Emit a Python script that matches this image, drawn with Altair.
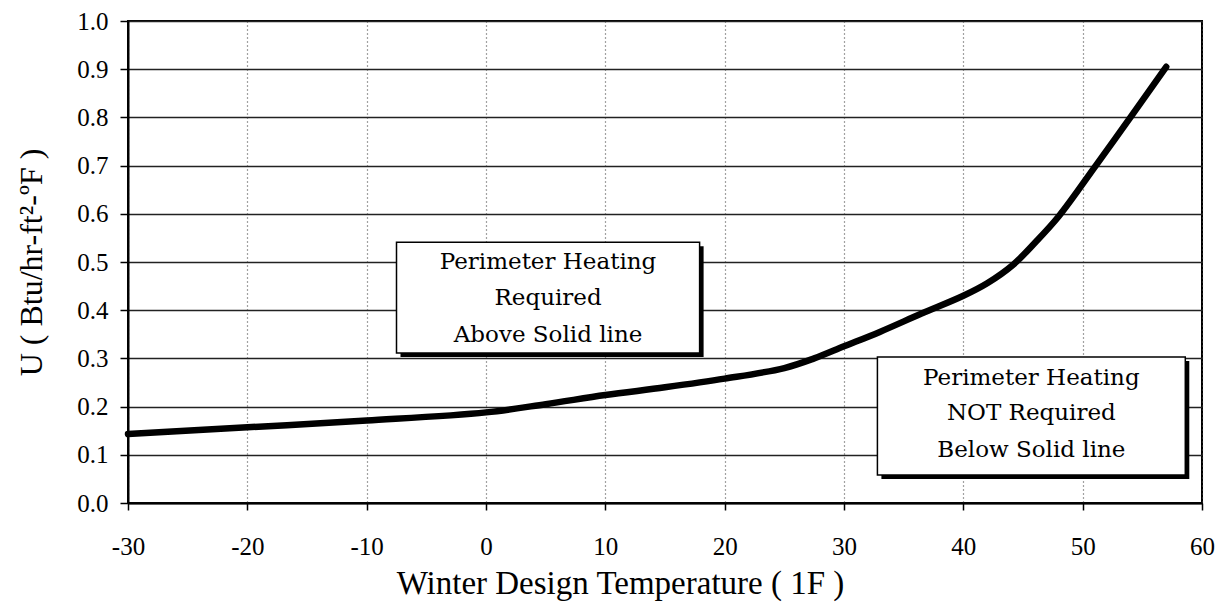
import altair as alt
import pandas as pd

# Curve: U-value threshold vs winter design temperature
temps = [-30, -20, -10, 0, 5, 10, 15, 20, 25, 27.5, 30, 33, 36.5, 40, 42, 44.2, 46, 48, 51.1, 54, 57]
u_vals = [0.143, 0.157, 0.171, 0.188, 0.205, 0.224, 0.24, 0.258, 0.28, 0.300, 0.325,
          0.355, 0.393, 0.430, 0.456, 0.495, 0.540, 0.595, 0.70, 0.80, 0.905]

x_ticks = [-30, -20, -10, 0, 10, 20, 30, 40, 50, 60]
y_ticks = [0.0, 0.1, 0.2, 0.3, 0.4, 0.5, 0.6, 0.7, 0.8, 0.9, 1.0]

# annotation boxes (data coordinates)
box_x1 = [-7.5, 32.8]
box_x2 = [17.9, 58.6]
box_y1 = [0.311, 0.058]
box_y2 = [0.541, 0.303]

label_text = ["Perimeter Heating", "Required", "Above Solid line",
              "Perimeter Heating", "NOT Required", "Below Solid line"]
label_x = [5.2, 5.2, 5.2, 45.7, 45.7, 45.7]
label_y = [0.500, 0.425, 0.349, 0.259, 0.187, 0.110]

curve_df = pd.DataFrame({"t": temps, "u": u_vals})
box_df = pd.DataFrame({"x1": box_x1, "x2": box_x2, "y1": box_y1, "y2": box_y2})
lab_df = pd.DataFrame({"x": label_x, "y": label_y, "text": label_text})

SERIF = "Liberation Serif"

xscale = alt.Scale(domain=[-30, 60], nice=False, zero=False)
yscale = alt.Scale(domain=[0, 1], nice=False)

xaxis = alt.Axis(
    values=x_ticks, labelExpr="'' + datum.value", title="Winter Design Temperature ( 1F )",
    labelFont=SERIF, labelFontSize=25, labelColor="black", labelPadding=24,
    labelFlush=False, labelOverlap=False,
    tickColor="black", tickSize=7, tickWidth=1.5,
    domainColor="black", domainWidth=2,
    grid=True, gridColor="#444444", gridDash=[1, 3], gridWidth=1.2,
    titleFont=SERIF, titleFontSize=33, titleFontWeight="normal", titleColor="black",
    titleX=492, titleY=80, titleAlign="center", titleBaseline="middle",
)
yaxis = alt.Axis(
    values=y_ticks, format=".1f", title="U ( Btu/hr-ft²-ºF )",
    labelFont=SERIF, labelFontSize=25, labelColor="black", labelPadding=12,
    labelFlush=False, labelOverlap=False,
    tickColor="black", tickSize=8, tickWidth=1.5,
    domainColor="black", domainWidth=2,
    grid=True, gridColor="#222222", gridWidth=1.4,
    titleFont=SERIF, titleFontSize=32, titleFontWeight="normal", titleColor="black",
    titleX=-97, titleY=241, titleAngle=-90, titleAlign="center", titleBaseline="middle",
)

line = alt.Chart(curve_df).mark_line(
    color="black", strokeWidth=6.5, interpolate="catmull-rom", strokeCap="round"
).encode(
    x=alt.X("t:Q", scale=xscale, axis=xaxis),
    y=alt.Y("u:Q", scale=yscale, axis=yaxis),
)

shadow = alt.Chart(box_df).mark_rect(
    color="black", xOffset=4, x2Offset=4, yOffset=4, y2Offset=4
).encode(
    x=alt.X("x1:Q", scale=xscale), x2="x2:Q",
    y=alt.Y("y1:Q", scale=yscale), y2="y2:Q",
)

boxes = alt.Chart(box_df).mark_rect(
    fill="white", stroke="black", strokeWidth=1.5
).encode(
    x=alt.X("x1:Q", scale=xscale), x2="x2:Q",
    y=alt.Y("y1:Q", scale=yscale), y2="y2:Q",
)

labels = alt.Chart(lab_df).mark_text(
    font="DejaVu Serif", fontSize=23, color="black", align="center", baseline="middle"
).encode(
    x=alt.X("x:Q", scale=xscale),
    y=alt.Y("y:Q", scale=yscale),
    text="text:N",
)

chart = alt.layer(line, shadow, boxes, labels).properties(
    width=1074, height=482,
    autosize=alt.AutoSizeParams(type="none"),
    padding={"left": 120, "top": 13, "right": 20, "bottom": 100},
).configure_view(stroke="black", strokeWidth=2)

chart.save("out.html", embed_options={"renderer": "svg", "actions": False})
